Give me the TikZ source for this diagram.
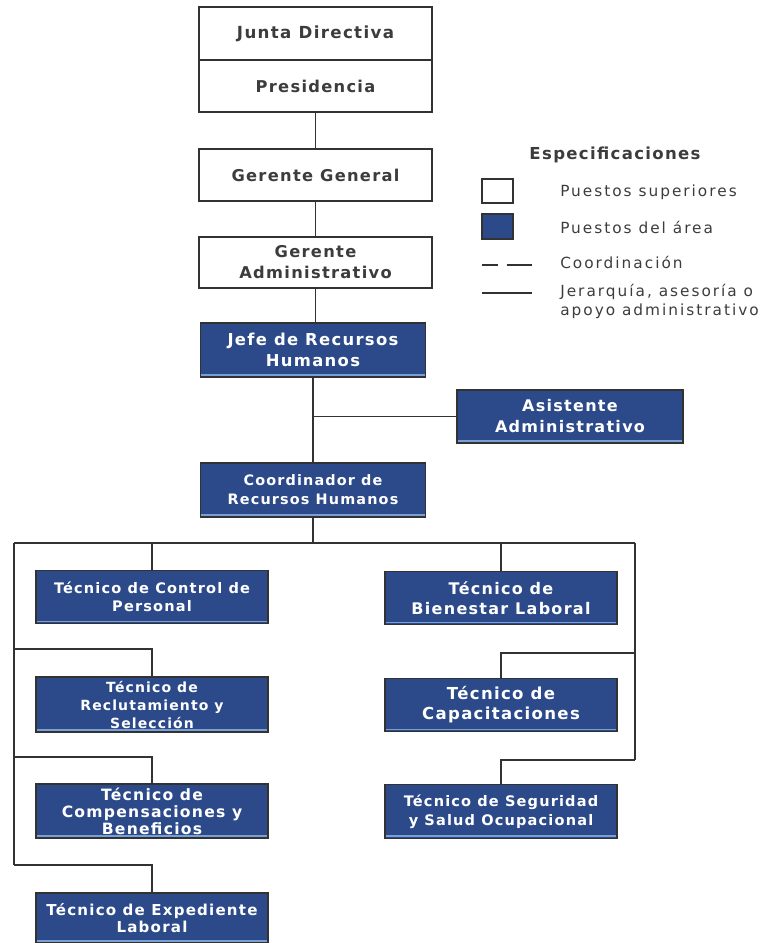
\documentclass[tikz,border=0pt]{standalone}
\usepackage{fontspec}
\setmainfont{DejaVu Sans}[LetterSpace=13, BoldFeatures={LetterSpace=8}]
\definecolor{areablue}{RGB}{44,74,138}
\definecolor{hiblue}{RGB}{120,160,215}
\definecolor{linec}{RGB}{50,50,50}
\definecolor{txtg}{RGB}{60,60,60}
\newcommand{\fs}[2]{\bfseries\fontsize{#1}{#2}\selectfont}
\begin{document}
\begin{tikzpicture}[x=0.75pt,y=-0.75pt,
  conn/.style={draw=linec, line width=1.3pt},
  wbox/.style={draw=linec, line width=1.3pt, fill=white, text=txtg, inner sep=0pt,
    minimum width=174.75pt, minimum height=39pt, align=center,
    font=\fs{12.2}{15.75}},
  bbox/.style={draw=linec, line width=0.9pt, fill=areablue, text=white, inner sep=0pt,
    minimum width=168.75pt, minimum height=40.5pt, align=center,
    font=\fs{12}{15.75},
    path picture={\draw[hiblue, line width=1.2pt]
      ([yshift=1.5pt]path picture bounding box.south west) --
      ([yshift=1.5pt]path picture bounding box.south east);}},
  tbox/.style={bbox, minimum width=174pt, minimum height=40pt},
  legtxt/.style={anchor=west, text=txtg, inner sep=0pt, align=left,
    font=\fontsize{11.5}{14.25}\selectfont}
]
\useasboundingbox (0,0) rectangle (762,943);
% top boxes
\node[wbox, minimum height=39.75pt, font=\fs{12.5}{15.75}] (jd) at (315.5,33.5) {Junta Directiva};
\node[wbox] (pres) at (315.5,86) {Presidencia};
\node[wbox] (gg) at (315.5,175) {Gerente General};
\node[wbox, minimum height=38.25pt] (gadm) at (315.5,262.5) {Gerente\\Administrativo};
% area boxes
\node[bbox, font=\fs{12.3}{15.75}] (jefe) at (313,350) {Jefe de Recursos\\Humanos};
\node[bbox, minimum width=169.5pt, minimum height=39.75pt] (asis) at (570,416.5) {Asistente\\Administrativo};
\node[bbox, font=\fs{10.8}{14.25}] (coord) at (313,490) {Coordinador de\\Recursos Humanos};
\node[tbox, font=\fs{10.9}{13.5}] (ctrl) at (152,597) {Técnico de Control de\\Personal};
\node[tbox, minimum height=41.25pt, font=\fs{10.5}{13.5}] (recl) at (152,704.5) {Técnico de\\Reclutamiento y\\Selección};
\node[tbox, minimum height=40.5pt, font=\fs{11.7}{12.75}] (comp) at (152,811) {Técnico de\\Compensaciones y\\Beneficios};
\node[tbox, minimum height=37.5pt, font=\fs{11.3}{12.75}] (exped) at (152,918) {Técnico de Expediente\\Laboral};
\node[tbox, font=\fs{12}{15}] (bien) at (501,598) {Técnico de\\Bienestar Laboral};
\node[tbox, font=\fs{12.4}{15}] (capa) at (501,705) {Técnico de\\Capacitaciones};
\node[tbox, font=\fs{10.9}{14.25}] (seg) at (501,811.5) {Técnico de Seguridad\\y Salud Ocupacional};
% connectors
\draw[conn] (pres.south) -- (gg.north);
\draw[conn] (gg.south) -- (gadm.north);
\draw[conn] (gadm.south) -- (gadm.south |- jefe.north);
\draw[conn] (jefe.south) -- (coord.north);
\coordinate (aj) at (jefe.south |- asis.west);
\draw[conn] (aj) -- (asis.west);
\coordinate (bus) at (313,543);
\coordinate (busL) at (14,543);
\coordinate (busR) at (635,543);
\draw[conn] (coord.south) -- (bus);
\draw[conn] (busL) -- (busR);
\coordinate (dc) at (ctrl.north |- busL);
\draw[conn] (dc) -- (ctrl.north);
\coordinate (db) at (bien.north |- busR);
\draw[conn] (db) -- (bien.north);
\coordinate (l2) at (14,649);
\coordinate (l3) at (14,757);
\coordinate (lend) at (14,865);
\draw[conn] (busL) -- (lend);
\draw[conn] (l2) -| (recl.north);
\draw[conn] (l3) -| (comp.north);
\draw[conn] (lend) -| (exped.north);
\coordinate (r2) at (635,653);
\coordinate (rend) at (635,760);
\draw[conn] (busR) -- (rend);
\draw[conn] (r2) -| (capa.north);
\draw[conn] (rend) -| (seg.north);
% legend
\node[text=txtg, inner sep=0pt, font=\fs{12.4}{15}] (spec) at (615,155) {Especificaciones};
\node[draw=linec, line width=0.9pt, fill=white, minimum width=23.25pt, minimum height=18pt, inner sep=0pt] (lg1) at (497.5,191) {};
\node[draw=linec, line width=0.9pt, fill=areablue, minimum width=23.25pt, minimum height=18.75pt, inner sep=0pt] (lg2) at (497.5,226.5) {};
\coordinate (d1) at (482,265);
\coordinate (d2) at (532,265);
\draw[conn, dash pattern=on 12pt off 6.5pt on 20pt] (d1) -- (d2);
\coordinate (s1) at (482,293);
\coordinate (s2) at (532,293);
\draw[conn] (s1) -- (s2);
\node[legtxt] (t1) at (560,192) {Puestos superiores};
\node[legtxt] (t2) at (560,227) {Puestos del área};
\node[legtxt] (t3) at (560,262) {Coordinación};
\node[legtxt] (t4) at (560,301) {Jerarquía, asesoría o\\apoyo administrativo};
\end{tikzpicture}
\end{document}
